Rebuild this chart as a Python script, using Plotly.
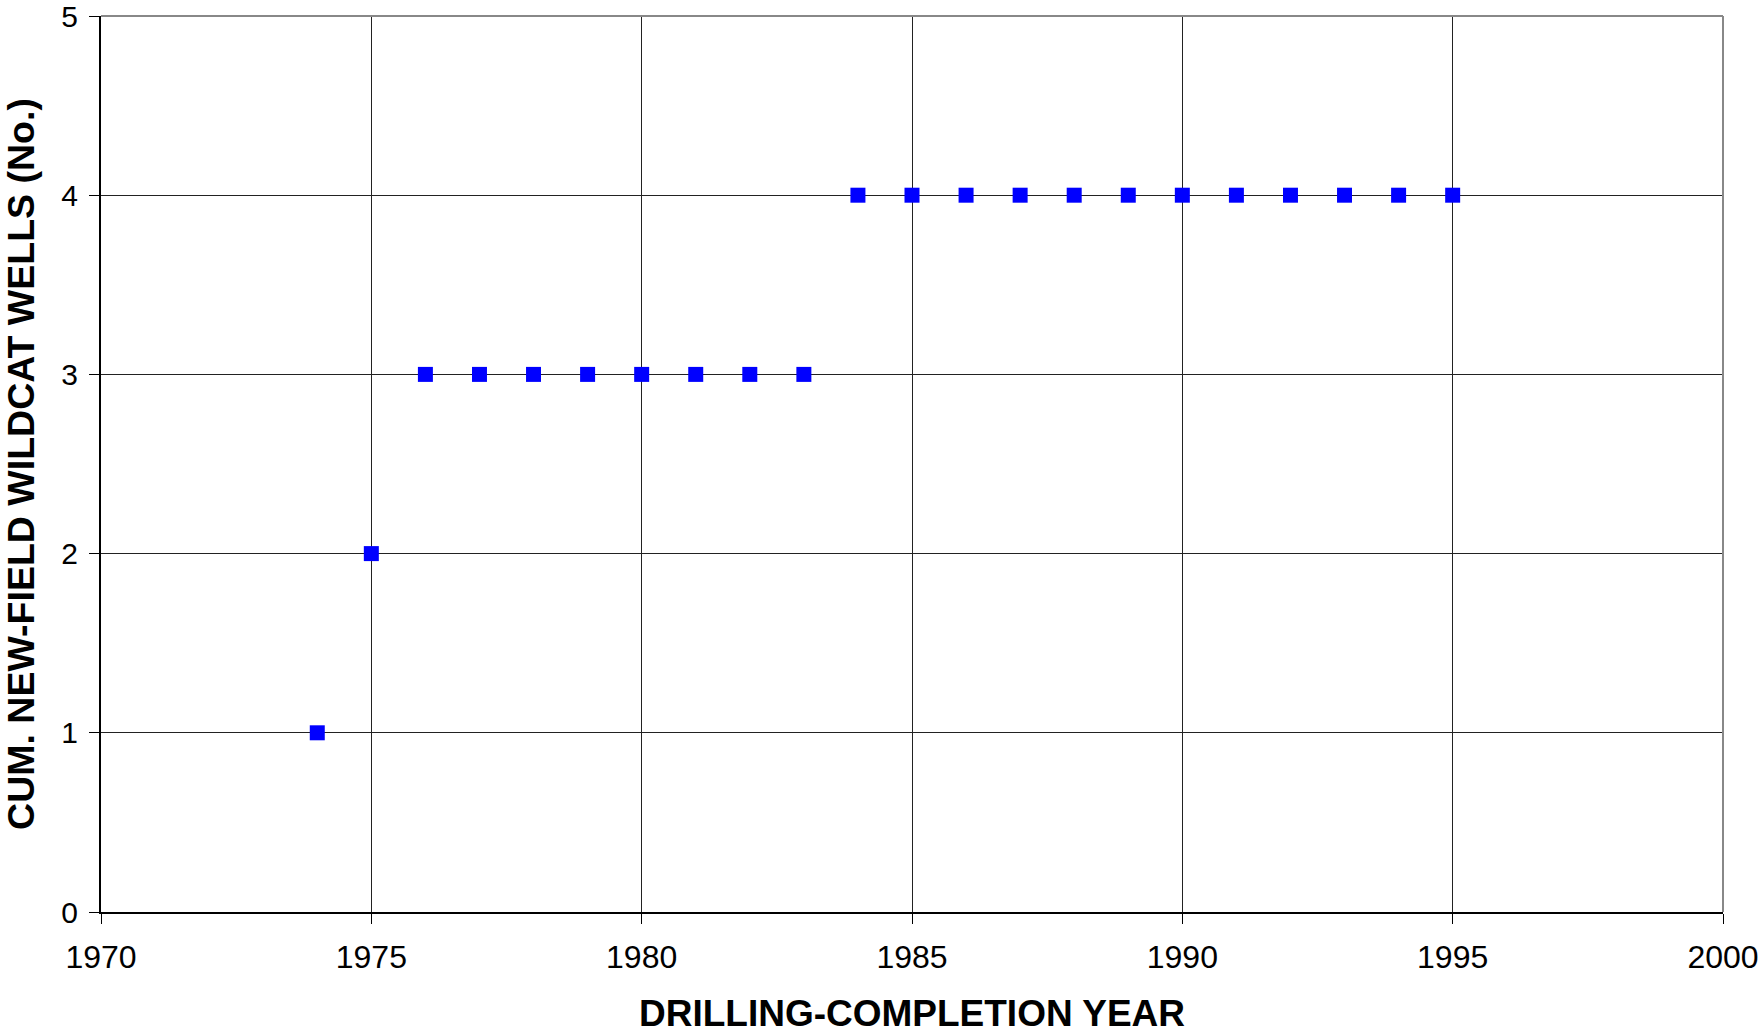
import plotly.graph_objects as go

years = [1974, 1975, 1976, 1977, 1978, 1979, 1980, 1981, 1982, 1983,
         1984, 1985, 1986, 1987, 1988, 1989, 1990, 1991, 1992, 1993, 1994, 1995]
cum_wells = [1, 2, 3, 3, 3, 3, 3, 3, 3, 3,
             4, 4, 4, 4, 4, 4, 4, 4, 4, 4, 4, 4]
x_ticks = [1970, 1975, 1980, 1985, 1990, 1995, 2000]
y_ticks = [0, 1, 2, 3, 4, 5]

fig = go.Figure()
fig.add_trace(go.Scatter(
    x=years, y=cum_wells, mode="markers",
    marker=dict(symbol="square", size=15, color="#0000FF", line=dict(width=0)),
    showlegend=False, cliponaxis=False,
))

font_family = "Liberation Sans, Arial, sans-serif"
fig.update_layout(
    width=1760, height=1034,
    margin=dict(l=101, r=37, t=16, b=122),
    paper_bgcolor="white", plot_bgcolor="white",
    font=dict(family=font_family, color="black"),
    xaxis=dict(
        range=[1970, 2000], tickvals=x_ticks, ticktext=[str(v) for v in x_ticks],
        showgrid=True, gridcolor="#222222", gridwidth=1,
        showline=True, linecolor="black", linewidth=2,
        ticks="outside", ticklen=10, tickcolor="black", tickwidth=1,
        tickfont=dict(size=32, family=font_family), ticklabelstandoff=6,
        ticklabeloverflow="allow", automargin=False,
        zeroline=False,
        title=dict(text="<b>DRILLING-COMPLETION YEAR</b>", font=dict(size=37, family=font_family), standoff=31),
    ),
    yaxis=dict(
        range=[0, 5], tickvals=y_ticks,
        showgrid=True, gridcolor="#222222", gridwidth=1,
        showline=True, linecolor="black", linewidth=2,
        ticks="outside", ticklen=10, tickcolor="black", tickwidth=1,
        tickfont=dict(size=30, family=font_family), ticklabelstandoff=5,
        ticklabeloverflow="allow", automargin=False,
        zeroline=False,
        title=dict(text="<b>CUM. NEW-FIELD WILDCAT WELLS (No.)</b>", font=dict(size=37.5, family=font_family), standoff=20),
    ),
    shapes=[
        dict(type="line", xref="paper", yref="paper", x0=0, x1=1, y0=1, y1=1,
             line=dict(color="#888888", width=2), layer="above"),
        dict(type="line", xref="paper", yref="paper", x0=1, x1=1, y0=0, y1=1,
             line=dict(color="#888888", width=2), layer="above"),
    ],
)

fig.write_html("out.html", config={"displayModeBar": False},
               post_script="document.body.style.margin='0';document.body.style.overflow='hidden';")
